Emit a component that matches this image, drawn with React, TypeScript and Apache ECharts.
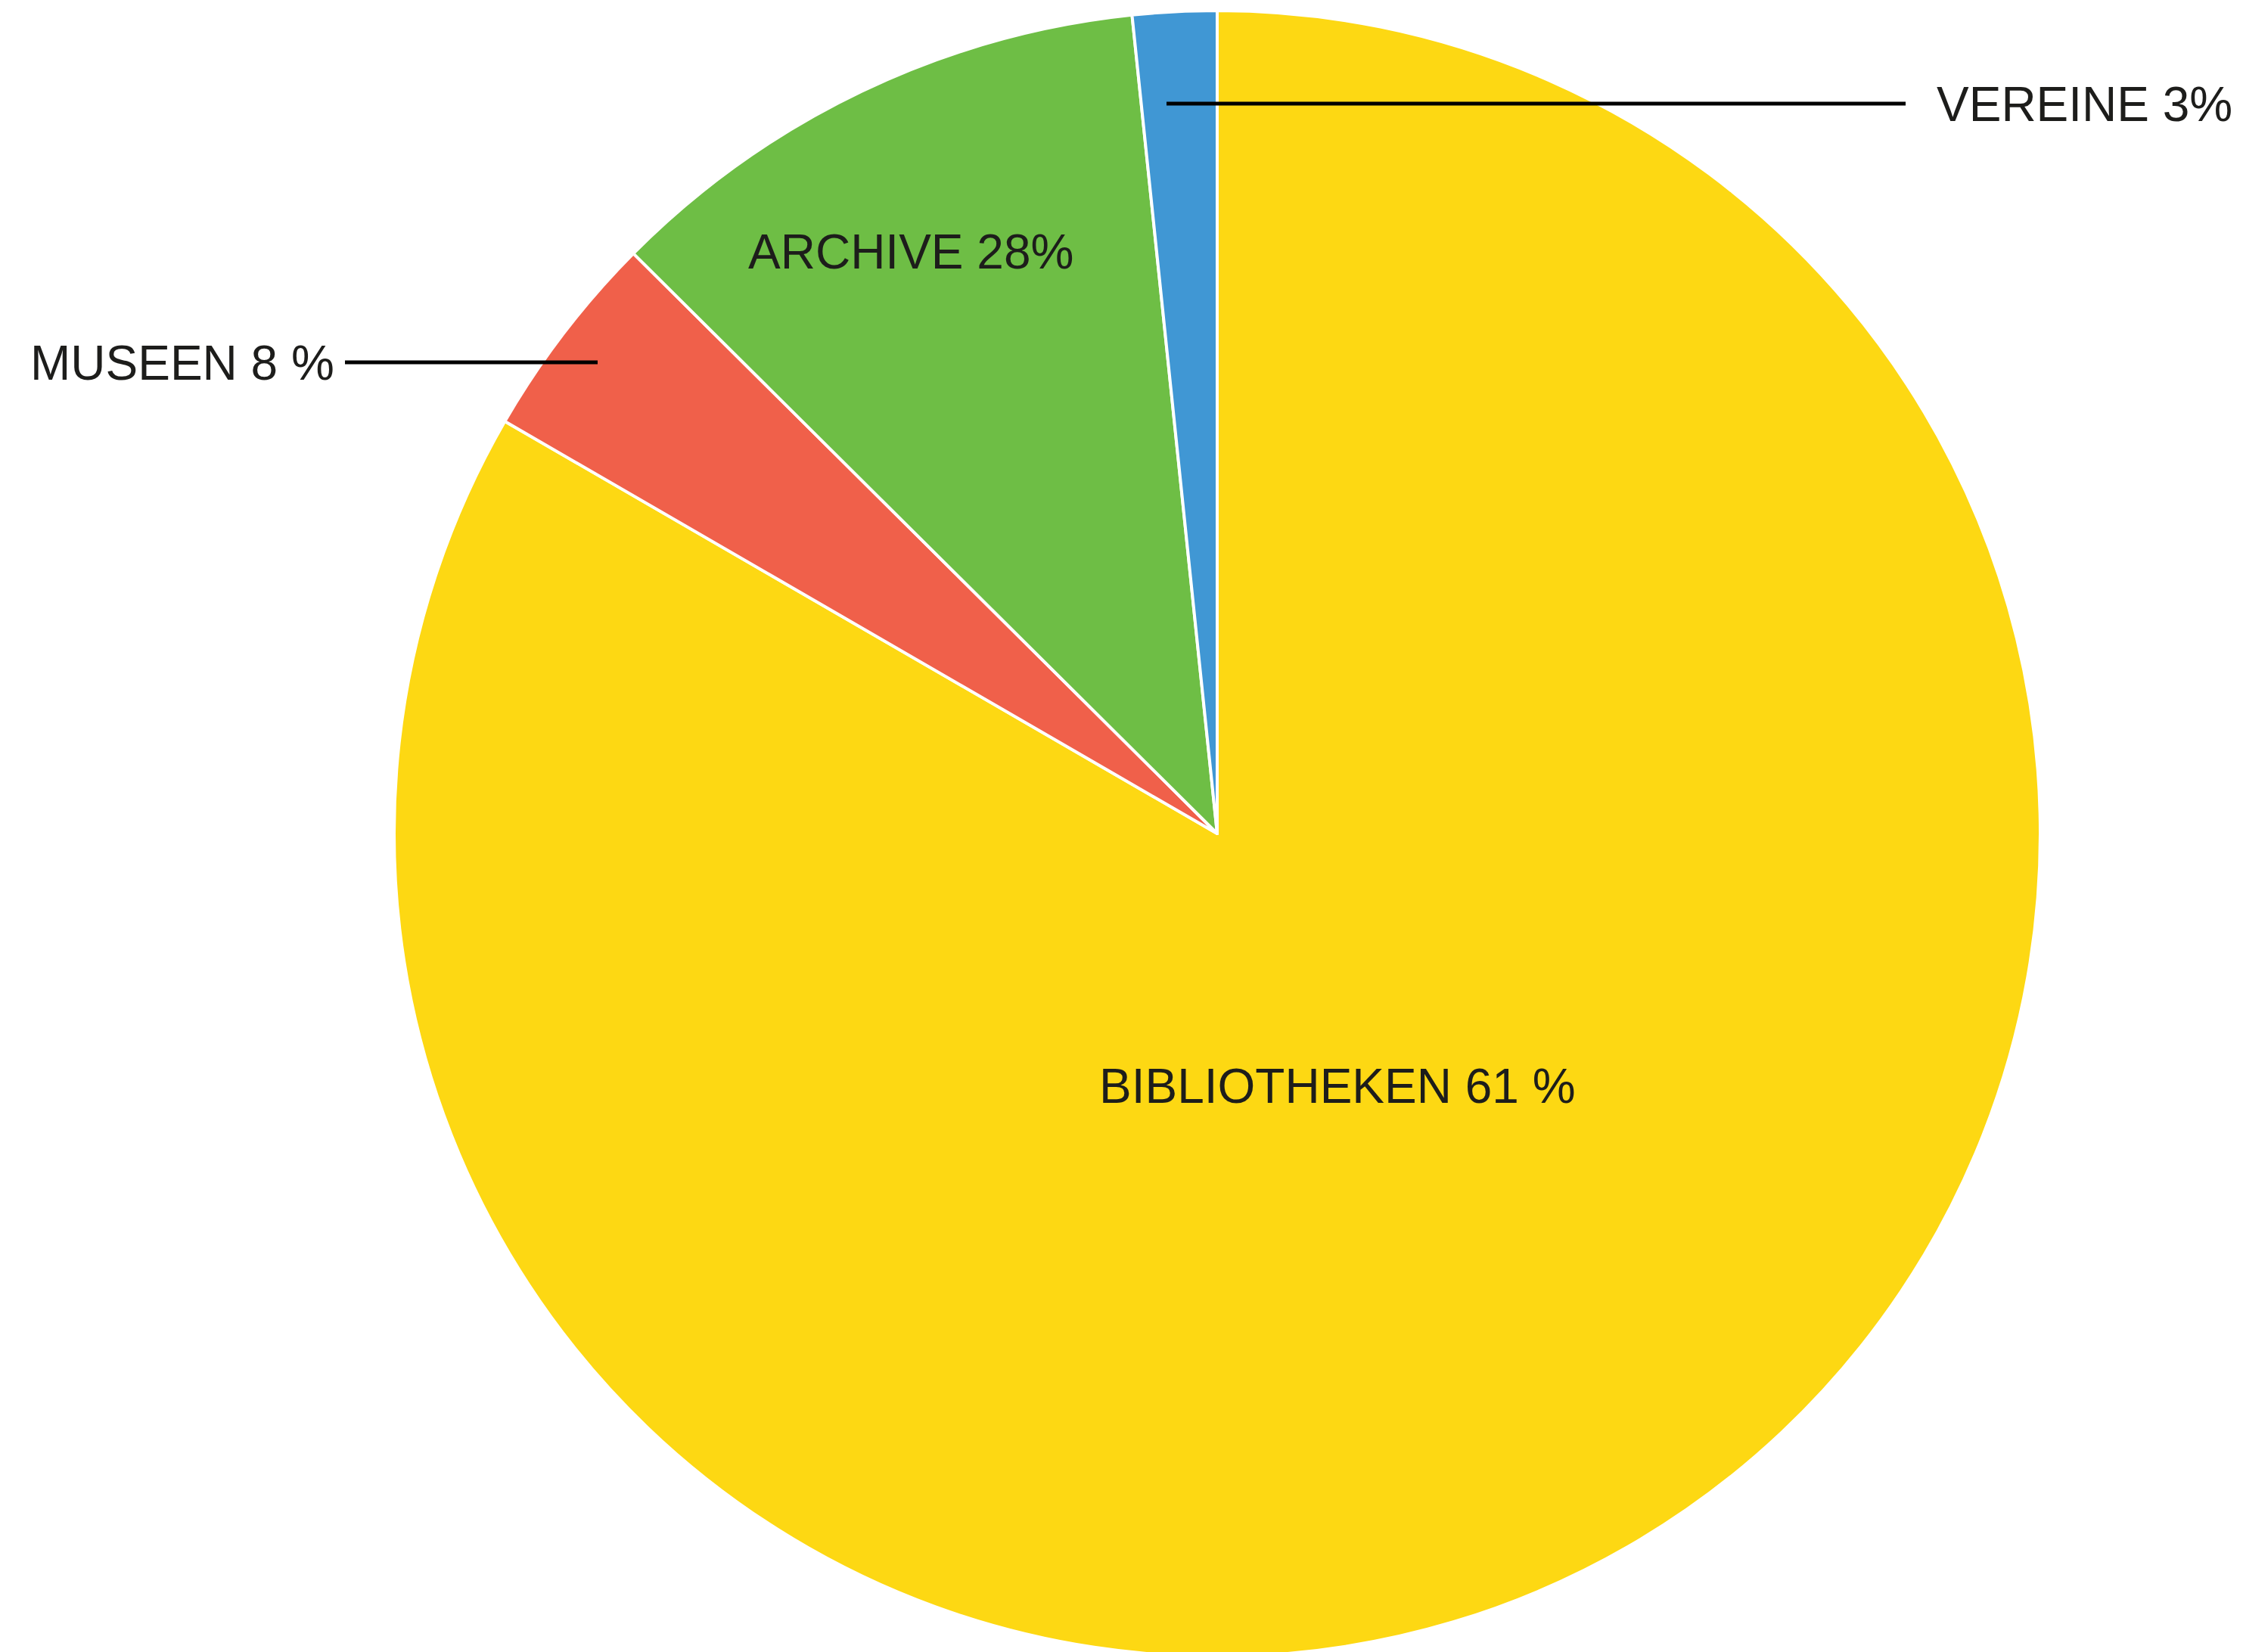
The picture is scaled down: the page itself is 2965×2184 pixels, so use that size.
import React, { useEffect, useRef } from "react";
import * as echarts from "echarts";

const categories = ["BIBLIOTHEKEN", "MUSEEN", "ARCHIVE", "VEREINE"];
const values = [83.35, 4.1, 10.9, 1.65];
const labelTexts = ["BIBLIOTHEKEN 61 %", "MUSEEN 8 %", "ARCHIVE 28%", "VEREINE 3%"];
const colors = ["#FDD813", "#F0604A", "#6EBE45", "#4097D4"];

// label anchor (left x, middle y) and leader line (x1, x2, y) in page pixels
const labelPos = [
  [1453, 1436],
  [40, 480],
  [989, 333],
  [2560, 138],
];
const leaderPos = [
  [456, 790, 479],
  [1542, 2519, 137],
];

export default function App() {
  const ref = useRef<HTMLDivElement>(null);
  useEffect(() => {
    if (!ref.current) return;
    const chart = echarts.init(ref.current, undefined, { renderer: "svg" });
    chart.setOption({
      animation: false,
      backgroundColor: "#ffffff",
      graphic: leaderPos.map((l) => ({
        type: "line",
        z: 100,
        silent: true,
        shape: { x1: l[0], y1: l[2], x2: l[1], y2: l[2] },
        style: { stroke: "#000000", lineWidth: 5 },
      })),
      series: [
        {
          type: "pie",
          center: [1609, 1102],
          radius: 1088,
          startAngle: 90,
          clockwise: true,
          avoidLabelOverlap: false,
          silent: true,
          emphasis: { disabled: true },
          itemStyle: { borderColor: "#ffffff", borderWidth: 4 },
          label: {
            show: true,
            position: "outside",
            fontSize: 64,
            fontFamily: "Liberation Sans, Arial, Helvetica, sans-serif",
            color: "#1d1d1b",
          },
          labelLine: { show: false },
          labelLayout: (params: any) => {
            const p = labelPos[params.dataIndex];
            return { x: p[0], y: p[1], align: "left", verticalAlign: "middle" };
          },
          data: categories.map((c, i) => ({
            name: c,
            value: values[i],
            itemStyle: { color: colors[i] },
            label: { formatter: labelTexts[i] },
          })),
        },
      ],
    });
    return () => chart.dispose();
  }, []);
  return (
    <div
      ref={ref}
      style={{ position: "fixed", left: 0, top: 0, width: 2965, height: 2184 }}
    />
  );
}
